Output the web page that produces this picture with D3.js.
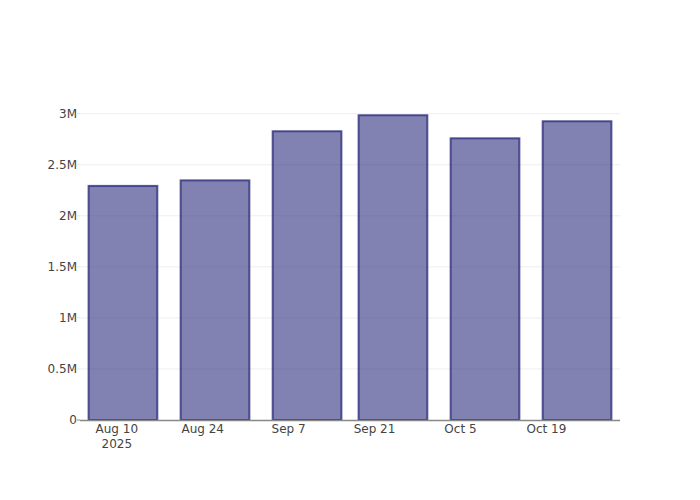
<!DOCTYPE html>
<html>
<head>
<meta charset="utf-8">
<script src="https://cdn.jsdelivr.net/npm/d3@7"></script>
<style>
  body { margin: 0; background: #fff; }
  svg text { font-family: "DejaVu Sans", sans-serif; }
</style>
</head>
<body>
<div id="chart"></div>
<script>
// bar dates and values
const dates = ["2025-08-11", "2025-08-26", "2025-09-10", "2025-09-24", "2025-10-09", "2025-10-24"];
const values = [2293000, 2347000, 2828000, 2985000, 2759000, 2926000];
const yTicks = [0, 500000, 1000000, 1500000, 2000000, 2500000, 3000000];
const yTickLabels = ["0", "0.5M", "1M", "1.5M", "2M", "2.5M", "3M"];
const xTicks = ["2025-08-10", "2025-08-24", "2025-09-07", "2025-09-21", "2025-10-05", "2025-10-19"];
const xTickLabels = [["Aug 10", "2025"], ["Aug 24"], ["Sep 7"], ["Sep 21"], ["Oct 5"], ["Oct 19"]];

const W = 700, H = 500;
const margin = {left: 80, right: 80, top: 100, bottom: 80};
const pw = W - margin.left - margin.right, ph = H - margin.top - margin.bottom;
const parse = d3.utcParse("%Y-%m-%d");

let data = dates.map((d, i) => ({date: parse(d), value: values[i]}));
// smallest spacing between bars
let minGap = d3.min(data.slice(1), (d, i) => d.date - data[i].date);
let barW = minGap * 0.8;

let x = d3.scaleUtc()
    .domain([new Date(+data[0].date - minGap / 2), new Date(+data[data.length - 1].date + minGap / 2)])
    .range([0, pw]);
let y = d3.scaleLinear()
    .domain([0, d3.max(values) * 1.05])
    .range([ph, 0]);

let svg = d3.select("#chart").append("svg")
    .attr("width", W).attr("height", H);
let g = svg.append("g")
    .attr("transform", "translate(" + margin.left + "," + margin.top + ")");

// grid
g.append("g").selectAll("line")
    .data(yTicks.slice(1))
    .enter().append("line")
    .attr("x1", 0).attr("x2", pw)
    .attr("y1", d => y(d)).attr("y2", d => y(d))
    .attr("stroke", "#eeeeee").attr("stroke-width", 1);

// bars
g.append("g").selectAll("rect")
    .data(data)
    .enter().append("rect")
    .attr("x", d => x(new Date(+d.date - barW / 2)))
    .attr("width", d => x(new Date(+d.date + barW / 2)) - x(new Date(+d.date - barW / 2)))
    .attr("y", d => y(d.value))
    .attr("height", d => y(0) - y(d.value))
    .attr("fill", "rgba(46,46,126,0.6)")
    .attr("stroke", "rgba(36,36,120,0.75)")
    .attr("stroke-width", 2);

// y axis
let yAxis = g.append("g");
yAxis.selectAll("line")
    .data(yTicks)
    .enter().append("line")
    .attr("x1", -3).attr("x2", 0)
    .attr("y1", d => y(d)).attr("y2", d => y(d))
    .attr("stroke", d => d === 0 ? "#888" : "#e5e5e5").attr("stroke-width", 1);
yAxis.selectAll("text")
    .data(yTicks)
    .enter().append("text")
    .attr("x", -3)
    .attr("y", d => y(d)).attr("dy", "0.36em")
    .attr("text-anchor", "end")
    .attr("font-size", 12).attr("fill", "#444")
    .text((d, i) => yTickLabels[i]);

// x axis line
g.append("line")
    .attr("x1", 0).attr("x2", pw)
    .attr("y1", ph + 0.5).attr("y2", ph + 0.5)
    .attr("stroke", "#888").attr("stroke-width", 1.5);

let xAxis = g.append("g");
xTicks.forEach((t, i) => {
    let tx = x(parse(t));
    let txt = xAxis.append("text")
        .attr("x", tx).attr("y", ph + 13)
        .attr("text-anchor", "middle")
        .attr("font-size", 12).attr("fill", "#444");
    xTickLabels[i].forEach((s, j) => {
        txt.append("tspan").attr("x", tx).attr("dy", j === 0 ? 0 : 15).text(s);
    });
});
</script>
</body>
</html>
